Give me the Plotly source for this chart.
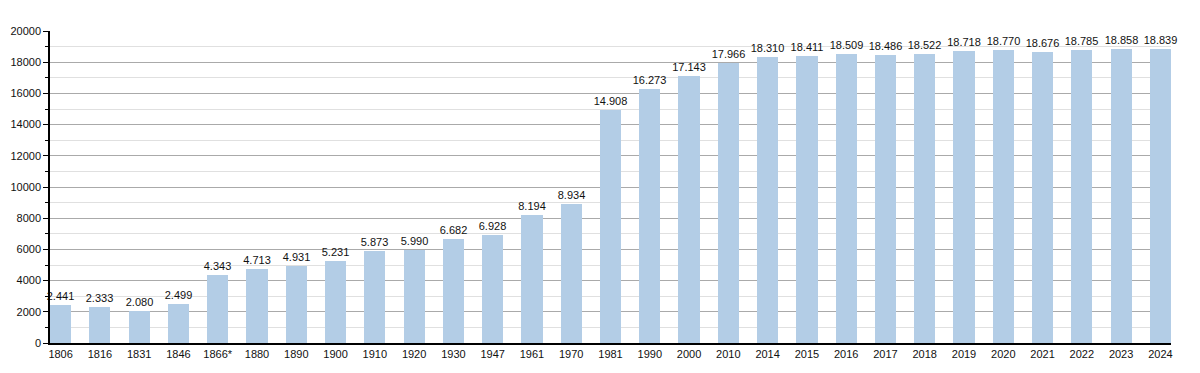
import plotly.graph_objects as go

years = ["1806", "1816", "1831", "1846", "1866*", "1880", "1890", "1900", "1910", "1920",
         "1930", "1947", "1961", "1970", "1981", "1990", "2000", "2010", "2014", "2015",
         "2016", "2017", "2018", "2019", "2020", "2021", "2022", "2023", "2024"]
population = [2441, 2333, 2080, 2499, 4343, 4713, 4931, 5231, 5873, 5990,
              6682, 6928, 8194, 8934, 14908, 16273, 17143, 17966, 18310, 18411,
              18509, 18486, 18522, 18718, 18770, 18676, 18785, 18858, 18839]
labels = [f"{v:,}".replace(",", ".") for v in population]

fig = go.Figure(go.Bar(
    x=list(range(len(years))), y=population,
    text=labels, textposition="outside", cliponaxis=False,
    constraintext="none",
    textfont=dict(size=11, color="#111", family="Liberation Sans, Arial"),
    marker=dict(color="#b3cde6", line=dict(width=0)),
    width=0.54,
))

fig.update_layout(
    width=1192, height=365,
    margin=dict(l=42, r=29, t=23, b=30),
    plot_bgcolor="white", paper_bgcolor="white",
    font=dict(family="Liberation Sans, Arial", size=11, color="#111"),
    showlegend=False,
    bargap=0,
)
fig.update_xaxes(
    tickmode="array", tickvals=list(range(len(years))), ticktext=years,
    range=[-0.27, len(years) - 1 + 0.27],
    showline=True, linecolor="black", linewidth=1.5,
    showgrid=False, ticks="", tickfont=dict(size=11),
    automargin=False,
)
fig.update_yaxes(
    range=[0, 20000], dtick=2000, tick0=0, tickformat="d",
    showline=True, linecolor="black", linewidth=1.5,
    ticks="outside", ticklen=5, tickcolor="black",
    showgrid=True, gridcolor="#aaaaaa", gridwidth=1,
    zeroline=False, tickfont=dict(size=11),
    automargin=False,
    minor=dict(dtick=1000, tick0=0, showgrid=True, gridcolor="#e0e0e0",
               ticks="outside", ticklen=3, tickcolor="black"),
)

fig.write_html("out.html")
